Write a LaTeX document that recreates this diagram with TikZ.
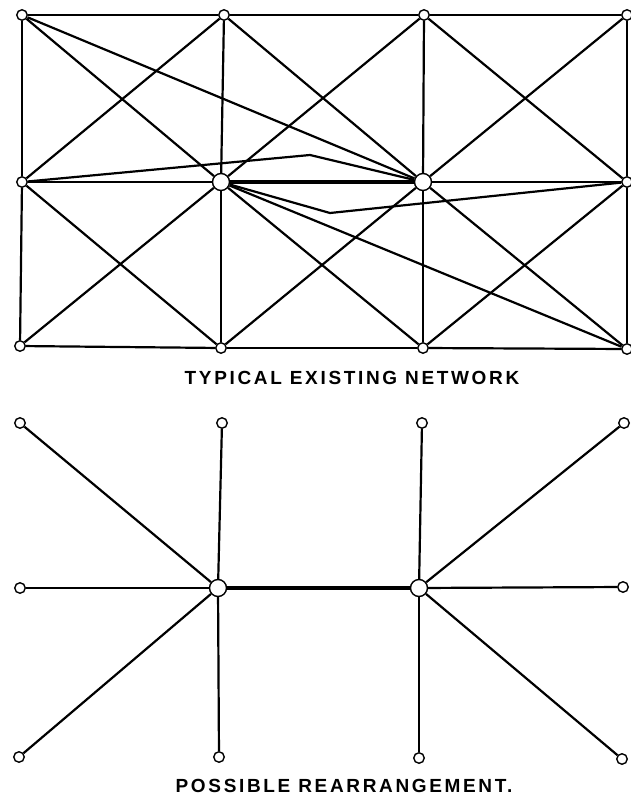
\documentclass[tikz,border=0pt]{standalone}
\usepackage{fontspec}
\newfontfamily\labfont[LetterSpace=14]{Liberation Sans}
\begin{document}
\begin{tikzpicture}[x=1pt,y=-1pt,
  sn/.style={circle,draw,line width=1.4pt,fill=white,minimum size=10.5pt,inner sep=0pt},
  bn/.style={circle,draw,line width=1.4pt,fill=white,minimum size=17pt,inner sep=0pt},
  ln/.style={line width=2.2pt},
  tk/.style={line width=4.8pt},
  lbl/.style={font=\labfont\bfseries\fontsize{19}{19}\selectfont,inner sep=0pt}]
\useasboundingbox (0,0) rectangle (630,798);
% ---- top network nodes
\node[sn] (A1) at (22,15) {};
\node[sn] (A2) at (224,15) {};
\node[sn] (A3) at (424,15) {};
\node[sn] (A4) at (627,15) {};
\node[sn] (B1) at (22,182) {};
\node[bn] (B2) at (221,182) {};
\node[bn] (B3) at (423,182) {};
\node[sn] (B4) at (627,182) {};
\node[sn] (C1) at (20,346) {};
\node[sn] (C2) at (221,348) {};
\node[sn] (C3) at (423,348) {};
\node[sn] (C4) at (627,349) {};
\coordinate (p1) at (310,155);
\coordinate (p2) at (330,213);
% grid
\draw[ln] (A1)--(A2); \draw[ln] (A2)--(A3); \draw[ln] (A3)--(A4);
\draw[ln] (B1)--(B2); \draw[ln] (B3)--(B4);
\draw[tk] (B2)--(B3);
\draw[ln] (C1)--(C2); \draw[ln] (C2)--(C3); \draw[ln] (C3)--(C4);
\draw[ln] (A1)--(B1); \draw[ln] (B1)--(C1);
\draw[ln] (A2)--(B2); \draw[ln] (B2)--(C2);
\draw[ln] (A3)--(B3); \draw[ln] (B3)--(C3);
\draw[ln] (A4)--(B4); \draw[ln] (B4)--(C4);
% diagonals
\draw[ln] (A1)--(B2); \draw[ln] (B1)--(A2);
\draw[ln] (A2)--(B3); \draw[ln] (B2)--(A3);
\draw[ln] (A3)--(B4); \draw[ln] (B3)--(A4);
\draw[ln] (B1)--(C2); \draw[ln] (C1)--(B2);
\draw[ln] (B2)--(C3); \draw[ln] (C2)--(B3);
\draw[ln] (B3)--(C4); \draw[ln] (C3)--(B4);
% extra links
\draw[ln] (A1)--(B3);
\draw[ln] (B2)--(C4);
\draw[ln,line join=miter] (B1)--(p1)--(B3);
\draw[ln,line join=miter] (B2)--(p2)--(B4);
\node[lbl] (t1) at (352,378) {TYPICAL EXISTING NETWORK};
% ---- bottom network
\node[sn] (D1) at (20,423) {};
\node[sn] (D2) at (222,423) {};
\node[sn] (D3) at (422,423) {};
\node[sn] (D4) at (624,423) {};
\node[sn] (E1) at (20,588) {};
\node[bn] (E2) at (218,588) {};
\node[bn] (E3) at (419,588) {};
\node[sn] (E4) at (623,587) {};
\node[sn] (F1) at (19,757) {};
\node[sn] (F2) at (219,757) {};
\node[sn] (F3) at (419,758) {};
\node[sn] (F4) at (622,759) {};
\draw[ln] (E2)--(D1); \draw[ln] (E2)--(D2); \draw[ln] (E2)--(E1);
\draw[ln] (E2)--(F1); \draw[ln] (E2)--(F2);
\draw[tk] (E2)--(E3);
\draw[ln] (E3)--(D3); \draw[ln] (E3)--(D4); \draw[ln] (E3)--(E4);
\draw[ln] (E3)--(F3); \draw[ln] (E3)--(F4);
\node[lbl] (t2) at (344,786) {POSSIBLE REARRANGEMENT.};
\end{tikzpicture}
\end{document}
